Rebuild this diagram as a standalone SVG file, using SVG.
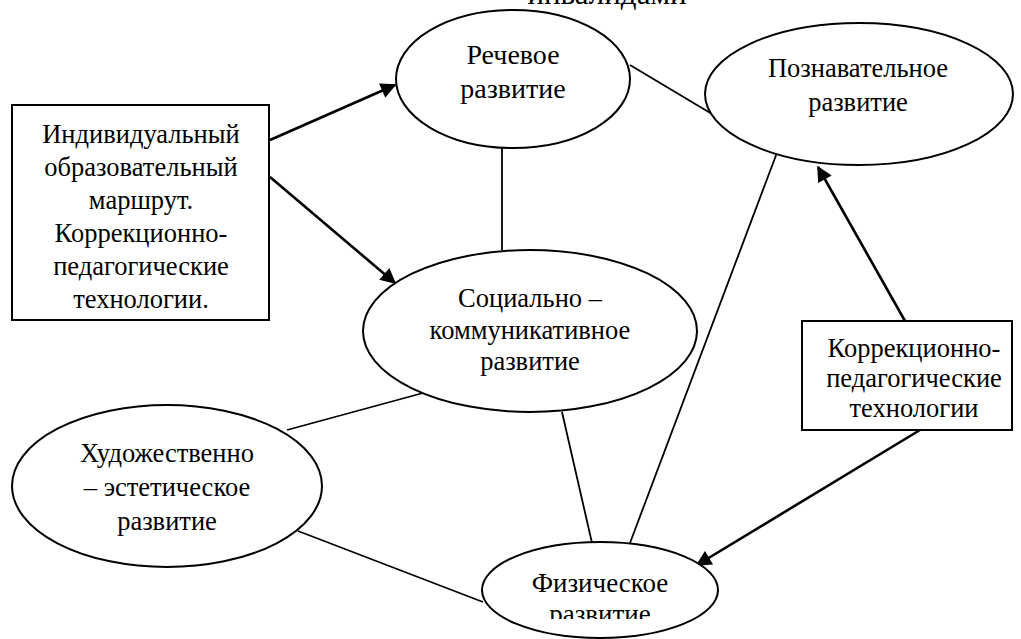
<svg xmlns="http://www.w3.org/2000/svg" width="1021" height="639" viewBox="0 0 1021 639">
<style>
  .shape { fill: #fff; stroke: #000; stroke-width: 2; }
  .t { font-family: 'Liberation Serif', 'Times New Roman', serif; font-size: 26.5px; fill: #000; text-anchor: middle; }
  .line { stroke: #000; stroke-width: 1.8; fill: none; }
  .arrow { stroke: #000; stroke-width: 2.6; fill: none; marker-end: url(#ah); }
</style>
<defs>
  <marker id="ah" viewBox="0 0 10 10" refX="9" refY="5" markerWidth="7" markerHeight="6" orient="auto" markerUnits="strokeWidth">
    <path d="M0,0 L10,5 L0,10 z" fill="#000"/>
  </marker>
  <clipPath id="fizclip"><rect x="0" y="0" width="1021" height="619"/></clipPath>
</defs>
<rect width="1021" height="639" fill="#fff"/>

<text class="t" x="607" y="4" style="font-size:31px">инвалидами</text>

<g id="connectors">
  <line class="arrow" x1="270" y1="140" x2="395" y2="85"/>
  <line class="arrow" x1="270" y1="177" x2="395" y2="283"/>
  <line class="line" x1="630" y1="65" x2="717" y2="117"/>
  <line class="line" x1="502" y1="148" x2="502" y2="250"/>
  <line class="line" x1="778" y1="150" x2="630" y2="543"/>
  <line class="arrow" x1="905" y1="321" x2="818" y2="167"/>
  <line class="arrow" x1="920" y1="430" x2="697" y2="565"/>
  <line class="line" x1="287" y1="430" x2="423" y2="393"/>
  <line class="line" x1="562" y1="412" x2="592" y2="543"/>
  <line class="line" x1="298" y1="531" x2="483" y2="602"/>
</g>

<g id="node-individual">
  <rect class="shape" x="12" y="105" width="257" height="215"/>
  <text class="t" x="141" y="143">Индивидуальный</text>
  <text class="t" x="141" y="176">образовательный</text>
  <text class="t" x="141" y="209">маршрут.</text>
  <text class="t" x="141" y="242">Коррекционно-</text>
  <text class="t" x="141" y="275">педагогические</text>
  <text class="t" x="141" y="308">технологии.</text>
</g>

<g id="node-rechevoe">
  <ellipse class="shape" cx="513" cy="79" rx="117" ry="69"/>
  <text class="t" x="513" y="64" style="font-size:28px">Речевое</text>
  <text class="t" x="513" y="98" style="font-size:28px">развитие</text>
</g>

<g id="node-poznavatelnoe">
  <ellipse class="shape" cx="859" cy="94" rx="154" ry="71"/>
  <text class="t" x="858" y="77">Познавательное</text>
  <text class="t" x="858" y="111">развитие</text>
</g>

<g id="node-social">
  <ellipse class="shape" cx="530" cy="331" rx="167" ry="81"/>
  <text class="t" x="530" y="307">Социально –</text>
  <text class="t" x="530" y="339">коммуникативное</text>
  <text class="t" x="530" y="370">развитие</text>
</g>

<g id="node-korr">
  <rect class="shape" x="802" y="321" width="210" height="109"/>
  <text class="t" x="914" y="357">Коррекционно-</text>
  <text class="t" x="914" y="387">педагогические</text>
  <text class="t" x="914" y="417">технологии</text>
</g>

<g id="node-khudozh">
  <ellipse class="shape" cx="167" cy="486" rx="155" ry="81"/>
  <text class="t" x="167" y="462">Художественно</text>
  <text class="t" x="167" y="496">– эстетическое</text>
  <text class="t" x="167" y="530">развитие</text>
</g>

<g id="node-fiz">
  <ellipse class="shape" cx="600" cy="590" rx="118" ry="48"/>
  <text class="t" x="600" y="592" style="font-size:27px">Физическое</text>
  <text class="t" x="600" y="623" style="font-size:27px" clip-path="url(#fizclip)">развитие</text>
</g>
</svg>
